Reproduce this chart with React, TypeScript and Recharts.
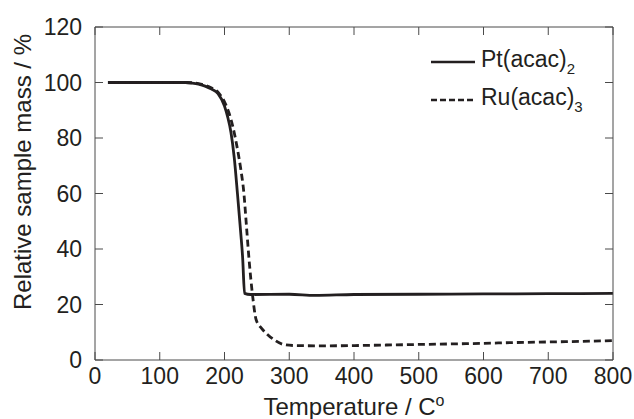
import React from "react";
import { LineChart, Line, XAxis, YAxis } from "recharts";

document.body.style.margin = "0";

// Pt(acac)2 thermogravimetric curve
const ptTemp = [20, 100, 140, 150, 160, 170, 180, 190, 200, 205, 210, 215, 220, 225, 228, 231, 240, 300, 340, 400, 500, 600, 700, 800];
const ptMass = [100, 100, 100, 99.8, 99.4, 98.7, 97.6, 96, 91.5, 87.5, 82, 73, 60, 46, 37, 24, 23.6, 23.7, 23.3, 23.6, 23.7, 23.8, 23.9, 24];

// Ru(acac)3 thermogravimetric curve
const ruTemp = [20, 140, 160, 180, 190, 200, 207, 213, 220, 225, 230, 234, 238, 243, 249, 257, 265, 276, 293, 310, 350, 400, 450, 500, 550, 600, 650, 700, 750, 800];
const ruMass = [100, 100, 99.6, 98, 96.5, 93, 89, 84, 76, 69, 60, 48, 36, 24, 14.4, 11.5, 9.5, 7.4, 5.5, 5.2, 5.1, 5.2, 5.4, 5.6, 5.8, 6, 6.3, 6.5, 6.7, 7];

const xTicks = [0, 100, 200, 300, 400, 500, 600, 700, 800];
const yTicks = [0, 20, 40, 60, 80, 100, 120];

const ptData = ptTemp.map((t, i) => ({ t, mass: ptMass[i] }));
const ruData = ruTemp.map((t, i) => ({ t, mass: ruMass[i] }));

const FONT = '"Liberation Sans", Arial, Helvetica, sans-serif';
const INK = "#231f20";
const AXIS = "#4a4a4a";
const TICK_LEN = 8;

// tick renderers: label plus an inward tick mark
const bottomTick = ({ x, y, payload }: any) => (
  <g>
    <line x1={x} y1={y - 8} x2={x} y2={y - 8 - TICK_LEN} stroke={AXIS} />
    <text x={x} y={y} dy="0.71em" textAnchor="middle" fontSize={23} fill={INK} fontFamily={FONT}>
      {payload.value}
    </text>
  </g>
);

const leftTick = ({ x, y, payload }: any) => (
  <g>
    <line x1={x + 13} y1={y} x2={x + 13 + TICK_LEN} y2={y} stroke={AXIS} />
    <text x={x} y={y} dy="0.355em" textAnchor="end" fontSize={23} fill={INK} fontFamily={FONT}>
      {payload.value}
    </text>
  </g>
);

const topTick = ({ x, y }: any) => <line x1={x} y1={y} x2={x} y2={y + TICK_LEN} stroke={AXIS} />;
const rightTick = ({ x, y }: any) => <line x1={x} y1={y} x2={x - TICK_LEN} y2={y} stroke={AXIS} />;

function LegendBox() {
  const row = (dash: string | undefined, name: string, sub: string) => (
    <div style={{ display: "flex", alignItems: "center", height: 38 }}>
      <svg width={44} height={6} style={{ marginRight: 6 }}>
        <line x1={0} y1={3} x2={44} y2={3} stroke={INK} strokeWidth={2.4} strokeDasharray={dash} />
      </svg>
      <span style={{ fontSize: 23, color: INK, fontFamily: FONT, lineHeight: 1 }}>
        {name}
        <sub style={{ fontSize: 15, verticalAlign: -7 }}>{sub}</sub>
      </span>
    </div>
  );
  return (
    <div style={{ position: "absolute", left: 431, top: 43 }}>
      {row(undefined, "Pt(acac)", "2")}
      {row("6 3", "Ru(acac)", "3")}
    </div>
  );
}

export default function App() {
  return (
    <div style={{ position: "relative", width: 634, height: 419, background: "#fff", fontFamily: FONT }}>
      <LineChart width={634} height={419} margin={{ top: 26, right: 20, bottom: 0, left: 0 }}>
        <XAxis
          xAxisId="bottom"
          dataKey="t"
          type="number"
          domain={[0, 800]}
          ticks={xTicks}
          height={59}
          stroke={AXIS}
          tickLine={false}
          tickSize={0}
          tickMargin={8}
          tick={bottomTick}
          label={() => (
            <text x={354} y={415} textAnchor="middle" fontSize={24} fill={INK} fontFamily={FONT}>
              Temperature / C
              <tspan dy={-9} fontSize={16}>o</tspan>
            </text>
          )}
        />
        <XAxis
          xAxisId="top"
          orientation="top"
          dataKey="t"
          type="number"
          domain={[0, 800]}
          ticks={xTicks}
          height={1}
          stroke={AXIS}
          tickLine={false}
          tickSize={0}
          tickMargin={0}
          tick={topTick}
        />
        <YAxis
          yAxisId="left"
          type="number"
          domain={[0, 120]}
          ticks={yTicks}
          width={95}
          stroke={AXIS}
          tickLine={false}
          tickSize={0}
          tickMargin={13}
          tick={leftTick}
          label={() => (
            <text
              x={31}
              y={172}
              transform="rotate(-90, 31, 172)"
              textAnchor="middle"
              fontSize={24}
              fill={INK}
              fontFamily={FONT}
            >
              Relative sample mass / %
            </text>
          )}
        />
        <YAxis
          yAxisId="right"
          orientation="right"
          type="number"
          domain={[0, 120]}
          ticks={yTicks}
          width={1}
          stroke={AXIS}
          tickLine={false}
          tickSize={0}
          tickMargin={0}
          tick={rightTick}
        />
        <Line
          xAxisId="bottom"
          yAxisId="left"
          data={ptData}
          dataKey="mass"
          name="Pt(acac)2"
          type="monotone"
          stroke={INK}
          strokeWidth={2.8}
          dot={false}
          isAnimationActive={false}
        />
        <Line
          xAxisId="top"
          yAxisId="right"
          data={ruData}
          dataKey="mass"
          name="Ru(acac)3"
          type="monotone"
          stroke={INK}
          strokeWidth={2.8}
          strokeDasharray="7 4"
          dot={false}
          isAnimationActive={false}
        />
      </LineChart>
      <LegendBox />
    </div>
  );
}
